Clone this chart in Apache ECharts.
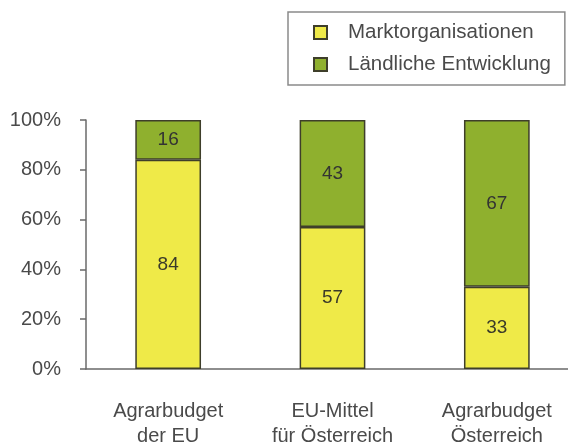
<!DOCTYPE html>
<html>
<head>
<meta charset="utf-8">
<script src="https://cdn.jsdelivr.net/npm/echarts@6/dist/echarts.min.js"></script>
<style>
  html, body { margin: 0; padding: 0; background: #fff; }
  #chart { width: 568px; height: 442px; }
</style>
</head>
<body>
<div id="chart"></div>
<script>
// Kategorien und Anteile (%)
var categories = ['Agrarbudget\nder EU', 'EU-Mittel\nfür Österreich', 'Agrarbudget\nÖsterreich'];
var marktorganisationen = [84, 57, 33];
var laendlicheEntwicklung = [16, 43, 67];
var yTicks = [0, 20, 40, 60, 80, 100];

var font = '"Liberation Sans", Arial, sans-serif';
var chart = echarts.init(document.getElementById('chart'));

chart.setOption({
  animation: false,
  backgroundColor: '#fff',
  textStyle: { fontFamily: font },
  legend: {
    orient: 'vertical',
    left: 288,
    top: 12,
    padding: [10, 14, 10, 25],
    itemGap: 11,
    itemWidth: 13,
    itemHeight: 13,
    icon: 'rect',
    borderColor: '#8a8a8a',
    borderWidth: 1.5,
    textStyle: { fontSize: 20.5, color: '#4a4a4a', fontFamily: font, padding: [0, 0, 0, 16] },
    data: ['Marktorganisationen', 'Ländliche Entwicklung']
  },
  grid: { left: 86, right: -11, top: 120, bottom: 73, outerBoundsMode: 'none' },
  xAxis: {
    type: 'category',
    data: categories,
    axisLine: { lineStyle: { color: '#6a6a6a', width: 1.5 } },
    axisTick: { length: 10, lineStyle: { color: '#6a6a6a', width: 1.5 } },
    axisLabel: { fontSize: 20, color: '#4a4a4a', margin: 30, lineHeight: 25, fontFamily: font }
  },
  yAxis: {
    type: 'value',
    min: yTicks[0],
    max: yTicks[yTicks.length - 1],
    interval: 20,
    splitLine: { show: false },
    axisLine: { show: true, lineStyle: { color: '#6a6a6a', width: 1.5 } },
    axisTick: { show: true, length: 6, lineStyle: { color: '#6a6a6a', width: 1.5 } },
    axisLabel: { formatter: '{value}%', fontSize: 20, color: '#4a4a4a', margin: 25, fontFamily: font }
  },
  series: [
    {
      name: 'Marktorganisationen',
      type: 'bar',
      stack: 'total',
      barWidth: '40%',
      data: marktorganisationen,
      itemStyle: { color: '#efea48', borderColor: '#3e3e2a', borderWidth: 1.5 },
      label: { show: true, position: 'inside', fontSize: 19, color: '#3a3a2a', fontFamily: font }
    },
    {
      name: 'Ländliche Entwicklung',
      type: 'bar',
      stack: 'total',
      barWidth: '40%',
      data: laendlicheEntwicklung,
      itemStyle: { color: '#8fb02e', borderColor: '#3e3e2a', borderWidth: 1.5 },
      label: { show: true, position: 'inside', fontSize: 19, color: '#333', fontFamily: font }
    }
  ]
});
</script>
</body>
</html>
